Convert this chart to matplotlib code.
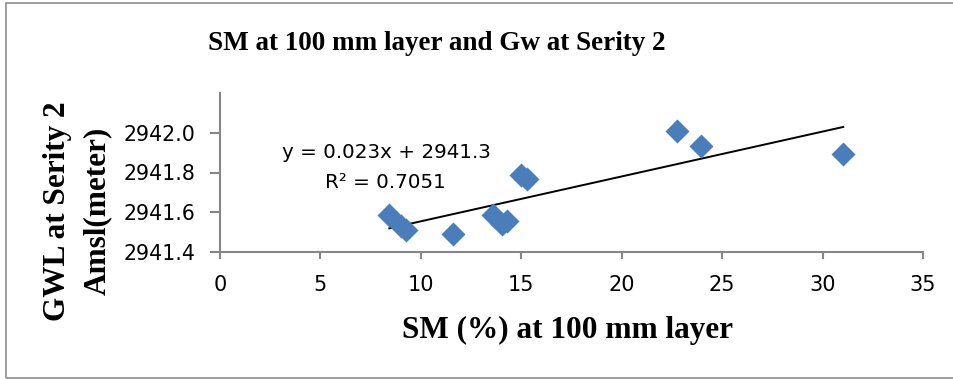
import numpy as np
import matplotlib.pyplot as plt
from matplotlib.patches import Rectangle

# Soil moisture (%) at 100 mm layer and groundwater level (m amsl) at Serity 2
sm = [8.43, 9.0, 9.25, 11.61, 13.57, 14.02, 14.27, 14.97, 15.3, 22.73, 23.94, 31.03]
gwl = [2941.585, 2941.53, 2941.513, 2941.493, 2941.585, 2941.54, 2941.557,
       2941.785, 2941.768, 2942.007, 2941.935, 2941.893]

x_ticks = [0, 5, 10, 15, 20, 25, 30, 35]
y_ticks = [2941.4, 2941.6, 2941.8, 2942.0]

title = "SM at 100 mm layer and Gw at Serity 2"
x_label = "SM (%) at 100 mm layer"
y_label_lines = ["GWL at Serity 2", "Amsl(meter)"]
eq_lines = ["y = 0.023x + 2941.3", "R\u00b2 = 0.7051"]

serif = ["Liberation Serif", "DejaVu Serif"]
sans = ["DejaVu Sans"]
axis_grey = "#868686"

fig = plt.figure(figsize=(9.54, 3.79), dpi=100)
fig.patch.set_facecolor("white")

# outer chart frame
fig.add_artist(Rectangle((6 / 954, 1 / 379), 1.2, 375 / 379, transform=fig.transFigure,
                         fill=False, edgecolor="#8c8c8c", linewidth=1.2))

ax = fig.add_axes([220 / 954, 1 - 252 / 379, (923 - 220) / 954, (252 - 93) / 379])

ax.scatter(sm, gwl, marker="D", s=150, color="#4a7ebb", zorder=3, linewidths=0)

# linear trendline over the range of the data
slope, intercept = np.polyfit(sm, gwl, 1)
xs = np.array([min(sm), max(sm)])
ax.plot(xs, slope * xs + intercept, color="black", linewidth=1.4, zorder=2)

ax.set_xlim(0, 35)
ax.set_ylim(2941.4, 2942.2)
ax.set_xticks(x_ticks)
ax.set_yticks(y_ticks)
ax.set_xticklabels([str(v) for v in x_ticks], fontfamily=sans, fontsize=15)
ax.set_yticklabels([f"{v:.1f}" for v in y_ticks], fontfamily=sans, fontsize=14.8)

for side in ("top", "right"):
    ax.spines[side].set_visible(False)
for side in ("left", "bottom"):
    ax.spines[side].set_color(axis_grey)
    ax.spines[side].set_linewidth(1.5)
ax.tick_params(axis="both", colors=axis_grey, labelcolor="black", width=1.5,
               direction="out")
ax.tick_params(axis="x", length=5, pad=11.5)
ax.tick_params(axis="y", length=7, pad=11)

fig.text(437 / 954, 1 - 43 / 379, title, ha="center", va="center",
         fontfamily=serif, fontweight="bold", fontsize=19.5)
fig.text(568 / 954, 1 - 330 / 379, x_label, ha="center", va="center",
         fontfamily=serif, fontweight="bold", fontsize=22.5)
for xpix, line in zip([58, 97], y_label_lines):
    fig.text(xpix / 954, 1 - 211 / 379, line, ha="center", va="center", rotation=90,
             fontfamily=serif, fontweight="bold", fontsize=22.5)

for (xpix, ypix), line in zip([(386, 153), (385, 183)], eq_lines):
    fig.text(xpix / 954, 1 - ypix / 379, line, ha="center", va="center",
             fontfamily=sans, fontsize=14.3)

fig.savefig("out.png", dpi=100, facecolor="white")
